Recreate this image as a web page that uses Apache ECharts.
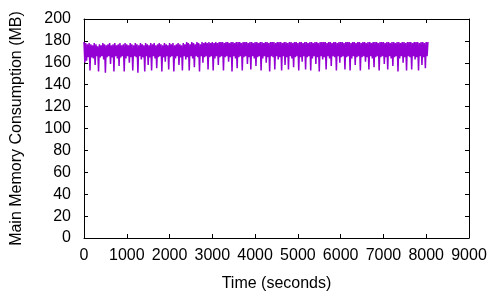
<!DOCTYPE html>
<html>
<head>
<meta charset="utf-8">
<script src="https://cdn.jsdelivr.net/npm/echarts@6/dist/echarts.min.js"></script>
<style>
  html, body { margin: 0; padding: 0; background: #fff; }
  #chart { width: 500px; height: 300px; }
</style>
</head>
<body>
<div id="chart"></div>
<script>
// x axis ticks (seconds) and y axis ticks (MB)
const xTicks = [0, 1000, 2000, 3000, 4000, 5000, 6000, 7000, 8000, 9000];
const yTicks = [0, 20, 40, 60, 80, 100, 120, 140, 160, 180, 200];

// sampling of the memory trace, one value every 20 s
const sampleStart = 0;
const sampleStep = 20;

// main memory consumption (MB)
const memory = [
  179, 160, 178, 162, 177, 165, 178, 153, 177, 165, 176, 164, 178, 158, 177, 166, 175, 152, 177, 165,
  176, 166, 178, 163, 177, 151, 176, 165, 177, 166, 178, 159, 176, 165, 177, 152, 178, 166, 176, 164,
  177, 157, 178, 165, 176, 166, 177, 152, 178, 164, 177, 166, 176, 160, 178, 165, 177, 153, 176, 166,
  178, 165, 177, 151, 176, 166, 178, 163, 177, 165, 176, 152, 178, 166, 177, 158, 176, 165, 178, 153,
  177, 166, 178, 164, 176, 155, 177, 165, 178, 166, 177, 152, 176, 165, 178, 161, 177, 166, 176, 154,
  178, 165, 177, 166, 178, 152, 176, 164, 177, 166, 178, 158, 177, 165, 176, 153, 178, 166, 177, 163,
  179, 165, 178, 153, 177, 166, 179, 164, 178, 156, 177, 166, 179, 165, 178, 152, 177, 166, 179, 160,
  178, 165, 179, 166, 178, 154, 179, 165, 178, 166, 179, 153, 178, 164, 179, 166, 178, 158, 179, 165,
  179, 166, 179, 153, 178, 165, 179, 166, 179, 161, 178, 165, 179, 152, 179, 166, 178, 164, 179, 155,
  179, 165, 179, 166, 178, 153, 179, 165, 179, 166, 179, 159, 178, 165, 179, 154, 179, 166, 178, 164,
  179, 157, 179, 165, 178, 166, 179, 153, 179, 164, 178, 166, 179, 160, 179, 165, 178, 152, 179, 166,
  179, 165, 179, 154, 178, 166, 179, 163, 179, 165, 179, 153, 178, 166, 179, 158, 179, 165, 178, 154,
  179, 166, 179, 164, 178, 156, 179, 165, 179, 166, 178, 153, 179, 165, 179, 161, 178, 166, 179, 154,
  179, 165, 178, 166, 179, 153, 179, 164, 178, 166, 179, 159, 179, 165, 178, 152, 179, 166, 179, 163,
  179, 165, 179, 154, 178, 166, 179, 164, 179, 157, 178, 166, 179, 165, 179, 153, 178, 166, 179, 160,
  179, 165, 179, 166, 178, 154, 179, 165, 179, 166, 179, 153, 178, 164, 179, 166, 179, 158, 178, 165,
  179, 166, 179, 153, 178, 165, 179, 166, 179, 161, 178, 165, 179, 154, 179, 166, 178, 164, 179, 156,
  179, 165, 179, 166, 178, 153, 179, 165, 179, 166, 179, 159, 178, 165, 179, 154, 179, 166, 178, 164,
  179, 157, 179, 165, 178, 166, 179, 152, 179, 164, 178, 166, 179, 160, 179, 165, 178, 153, 179, 166,
  179, 165, 179, 154, 178, 166, 179, 163, 179, 165, 179, 153, 178, 166, 179, 158, 179, 165, 178, 155,
  179, 166, 179
];

const purple = '#9400d3';
const font = 'Liberation Sans, Arial, sans-serif';
const fontSize = 16;

const seriesData = memory.map((v, i) => [sampleStart + i * sampleStep, v]);

const chart = echarts.init(document.getElementById('chart'), null, { renderer: 'canvas' });

const axisLine = { show: true, onZero: false, lineStyle: { color: '#000', width: 1 } };
const axisTick = { show: true, inside: true, length: 4, lineStyle: { color: '#000', width: 1 } };
const plain = v => String(v);

chart.setOption({
  animation: false,
  backgroundColor: '#fff',
  grid: { left: 84, right: 31, top: 19, bottom: 62, containLabel: false },
  xAxis: [
    {
      type: 'value',
      min: xTicks[0], max: xTicks[xTicks.length - 1], interval: 1000,
      name: 'Time (seconds)', nameLocation: 'middle', nameGap: 38,
      nameTextStyle: { fontFamily: font, fontSize, color: '#000' },
      axisLine, axisTick,
      axisLabel: { fontFamily: font, fontSize, color: '#000', margin: 10, formatter: plain },
      splitLine: { show: false }
    },
    {
      type: 'value', position: 'top',
      min: xTicks[0], max: xTicks[xTicks.length - 1], interval: 1000,
      axisLine, axisTick, axisLabel: { show: false }, splitLine: { show: false }
    }
  ],
  yAxis: [
    {
      type: 'value',
      min: yTicks[0], max: yTicks[yTicks.length - 1], interval: 20,
      name: 'Main Memory Consumption (MB)', nameLocation: 'middle', nameGap: 59,
      nameTextStyle: { fontFamily: font, fontSize, color: '#000' },
      axisLine, axisTick,
      axisLabel: { fontFamily: font, fontSize, color: '#000', margin: 13, formatter: plain },
      splitLine: { show: false }
    },
    {
      type: 'value', position: 'right',
      min: yTicks[0], max: yTicks[yTicks.length - 1], interval: 20,
      axisLine, axisTick, axisLabel: { show: false }, splitLine: { show: false }
    }
  ],
  series: [{
    type: 'line',
    data: seriesData,
    showSymbol: false,
    symbol: 'none',
    lineStyle: { color: purple, width: 1.5 },
    clip: true
  }]
});
</script>
</body>
</html>
